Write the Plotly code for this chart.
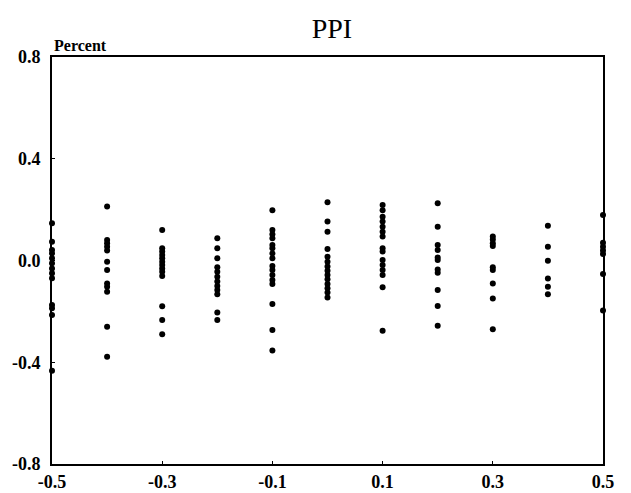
import plotly.graph_objects as go

# x categories (column positions)
x_positions = [-0.5, -0.4, -0.3, -0.2, -0.1, 0.0, 0.1, 0.2, 0.3, 0.4, 0.5]

# y values (percent) for each column
col_m05 = [0.146, 0.074, 0.041, 0.028, 0.009, -0.011, -0.031, -0.05, -0.07, -0.175, -0.188, -0.214, -0.433]
col_m04 = [0.212, 0.081, 0.068, 0.054, 0.039, -0.005, -0.037, -0.09, -0.103, -0.123, -0.26, -0.378]
col_m03 = [0.12, 0.048, 0.035, 0.022, 0.009, -0.005, -0.018, -0.031, -0.044, -0.061, -0.18, -0.234, -0.29]
col_m02 = [0.087, 0.048, 0.009, -0.027, -0.044, -0.064, -0.083, -0.1, -0.116, -0.133, -0.204, -0.234]
col_m01 = [0.198, 0.12, 0.103, 0.087, 0.061, 0.048, 0.028, 0.009, -0.022, -0.037, -0.057, -0.077, -0.092, -0.171, -0.273, -0.354]
col_000 = [0.229, 0.153, 0.113, 0.045, 0.015, -0.005, -0.024, -0.04, -0.057, -0.074, -0.092, -0.109, -0.126, -0.145]
col_p01 = [0.218, 0.198, 0.172, 0.153, 0.133, 0.113, 0.094, 0.048, 0.035, 0.002, -0.018, -0.037, -0.057, -0.105, -0.276]
col_p02 = [0.225, 0.133, 0.061, 0.041, 0.012, 0.002, -0.035, -0.048, -0.116, -0.179, -0.257]
col_p03 = [0.094, 0.083, 0.068, 0.057, -0.027, -0.037, -0.09, -0.149, -0.27]
col_p04 = [0.137, 0.054, -0.001, -0.071, -0.103, -0.133]
col_p05 = [0.179, 0.07, 0.054, 0.039, 0.026, -0.053, -0.197]

columns = [col_m05, col_m04, col_m03, col_m02, col_m01, col_000,
           col_p01, col_p02, col_p03, col_p04, col_p05]

x_tick_vals = [-0.5, -0.3, -0.1, 0.1, 0.3, 0.5]
x_tick_text = ["-0.5", "-0.3", "-0.1", "0.1", "0.3", "0.5"]
y_tick_vals = [0.8, 0.4, 0.0, -0.4, -0.8]
y_tick_text = ["0.8", "0.4", "0.0", "-0.4", "-0.8"]

xs, ys = [], []
for xp, col in zip(x_positions, columns):
    xs.extend([xp] * len(col))
    ys.extend(col)

fig = go.Figure()
fig.add_trace(go.Scatter(
    x=xs, y=ys, mode="markers",
    marker=dict(color="black", size=6),
    cliponaxis=False, showlegend=False,
))

serif = "Liberation Serif"
fig.update_layout(
    width=623, height=485,
    margin=dict(l=44, r=28, t=49, b=29),
    paper_bgcolor="white", plot_bgcolor="white",
    title=dict(text="PPI", x=0.52, xanchor="center", y=0.958, yanchor="middle",
               font=dict(family=serif, size=28, color="black")),
    font=dict(family=serif, color="black"),
    xaxis=dict(range=[-0.5, 0.5], tickvals=x_tick_vals, ticktext=x_tick_text,
               showgrid=False, zeroline=False, showline=True, linecolor="black",
               linewidth=2, mirror=True, ticks="inside", ticklen=3,
               tickcolor="black", ticklabelstandoff=0, automargin=False,
               tickfont=dict(family=serif, size=18, color="black", weight="bold")),
    yaxis=dict(range=[-0.8, 0.8], tickvals=y_tick_vals, ticktext=y_tick_text,
               showgrid=False, zeroline=False, showline=True, linecolor="black",
               linewidth=2, mirror=True, ticks="inside", ticklen=3,
               tickcolor="black", ticklabelstandoff=6, automargin=False,
               tickfont=dict(family=serif, size=18, color="black", weight="bold")),
    annotations=[dict(text="Percent", xref="paper", yref="paper", x=0.0, y=1.0,
                      xanchor="left", yanchor="bottom", showarrow=False, yshift=1,
                      font=dict(family=serif, size=16, color="black", weight="bold"))],
)

fig.write_html("out.html")
